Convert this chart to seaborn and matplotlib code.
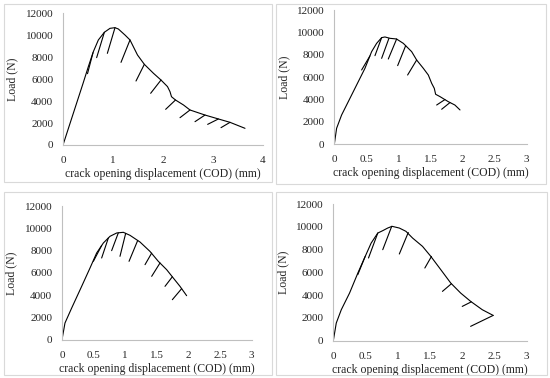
import matplotlib
matplotlib.use('Agg')
import matplotlib.pyplot as plt
import seaborn as sns
import numpy as np
import pandas as pd
from matplotlib.patches import Rectangle
from matplotlib.ticker import FuncFormatter

# panel 1 (top left)
cod1 = [0, 0.10, 0.25, 0.40, 0.507, 0.607, 0.707, 0.827, 0.94, 1.04, 1.107, 1.24, 1.34,
        1.49, 1.627, 1.81, 1.96, 2.09, 2.14, 2.17, 2.25, 2.41, 2.54, 2.84, 3.11, 3.34, 3.64]
load1 = [0, 1400, 3500, 5600, 7140, 8505, 9570, 10270, 10630, 10690, 10570, 10020, 9570,
         8200, 7350, 6530, 5920, 5320, 4860, 4400, 4100, 3645, 3190, 2730, 2370, 2065, 1520]
unl1_x0 = [0.49, 0.673, 0.887, 1.16, 1.46, 1.753, 2.053, 2.34, 2.64, 2.893, 3.16]
unl1_y0 = [6500, 7960, 8350, 7530, 5830, 4710, 3250, 2490, 2126, 1880, 1580]
unl1_x1 = [0.60, 0.827, 1.04, 1.34, 1.627, 1.96, 2.25, 2.54, 2.84, 3.107, 3.34]
unl1_y1 = [8410, 10270, 10690, 9570, 7350, 5920, 4100, 3190, 2730, 2370, 2065]

# panel 2 (top right)
cod2 = [0, 0.036, 0.114, 0.218, 0.348, 0.478, 0.582, 0.66, 0.738, 0.79, 0.868, 0.97, 1.076,
        1.206, 1.284, 1.388, 1.466, 1.518, 1.559, 1.58, 1.648, 1.777, 1.88, 1.96]
load2 = [0, 1430, 2620, 3810, 5300, 6790, 8280, 9020, 9530, 9590, 9470, 9410, 9020,
         8280, 7530, 6790, 6190, 5450, 5000, 4470, 4260, 3810, 3510, 3070]
unl2_x0 = [0.426, 0.634, 0.738, 0.842, 0.988, 1.143, 1.596, 1.674]
unl2_y0 = [6640, 7920, 7680, 7620, 7030, 6190, 3510, 3130]
unl2_x1 = [0.556, 0.738, 0.852, 0.972, 1.112, 1.284, 1.726, 1.804]
unl2_y1 = [7900, 9530, 9470, 9410, 8800, 7530, 4000, 3730]

# panel 3 (bottom left)
cod3 = [0, 0.047, 0.153, 0.311, 0.443, 0.548, 0.654, 0.759, 0.865, 0.97, 1.075, 1.233,
        1.39, 1.523, 1.655, 1.76, 1.866, 1.971]
load3 = [0, 1500, 2850, 4800, 6450, 7800, 8700, 9300, 9600, 9660, 9390, 8790,
         7950, 7050, 6300, 5550, 4800, 3960]
unl3_x0 = [0.496, 0.627, 0.785, 0.917, 1.06, 1.313, 1.418, 1.629, 1.745]
unl3_y0 = [7050, 7350, 8010, 7500, 7050, 6750, 5700, 4800, 3600]
unl3_x1 = [0.627, 0.733, 0.891, 1.007, 1.197, 1.418, 1.55, 1.745, 1.892]
unl3_y1 = [8470, 9150, 9615, 9565, 8925, 7790, 6900, 5660, 4590]

# panel 4 (bottom right)
cod4 = [0, 0.046, 0.124, 0.252, 0.381, 0.484, 0.587, 0.69, 0.767, 0.844, 0.911, 1.024,
        1.127, 1.23, 1.384, 1.513, 1.668, 1.822, 1.976, 2.131, 2.311, 2.48]
load4 = [0, 1550, 2720, 4180, 5940, 7260, 8570, 9450, 9660, 9890, 10040, 9890,
         9600, 9010, 8280, 7400, 6230, 5060, 4180, 3450, 2720, 2220]
unl4_x0 = [0.38, 0.546, 0.767, 1.024, 1.42, 1.693, 2.0, 2.13]
unl4_y0 = [5800, 7260, 7990, 7610, 6380, 4330, 3010, 1260]
unl4_x1 = [0.494, 0.69, 0.906, 1.163, 1.523, 1.832, 2.14, 2.48]
unl4_y1 = [7390, 9450, 10040, 9500, 7400, 5000, 3410, 2220]

y_ticks = [0, 2000, 4000, 6000, 8000, 10000, 12000]
xlabel = 'crack opening displacement (COD) (mm)'
ylabel = 'Load (N)'

sns.set_style('white')
plt.rcParams['font.family'] = ['Liberation Serif', 'DejaVu Serif']
plt.rcParams['font.size'] = 8

W, H = 550, 378
fig = plt.figure(figsize=(W / 100, H / 100), dpi=100)


def px_axes(left, top, right, bottom):
    return fig.add_axes([left / W, 1 - bottom / H, (right - left) / W, (bottom - top) / H])


def draw_panel(ax, cod, load, x0, y0, x1, y1, xmax, xstep):
    curve = pd.DataFrame({'cod': cod, 'load': load})
    sns.lineplot(data=curve, x='cod', y='load', sort=False, color='black', lw=0.8, ax=ax)
    segs = pd.DataFrame({
        'seg': list(range(len(x0))) * 2,
        'cod': list(x0) + list(x1),
        'load': list(y0) + list(y1),
    })
    sns.lineplot(data=segs, x='cod', y='load', units='seg', estimator=None, sort=False,
                 color='black', lw=0.8, ax=ax)
    ax.set_xlim(0, xmax)
    ax.set_ylim(0, 12000)
    ax.set_xticks(np.arange(0, xmax + 0.01, xstep))
    ax.set_yticks(y_ticks)
    ax.xaxis.set_major_formatter(FuncFormatter(lambda v, p: f'{v:g}'))
    ax.tick_params(length=0, labelsize=8)
    ax.tick_params(axis='y', pad=7)
    ax.tick_params(axis='x', pad=8)
    for s in ['top', 'right']:
        ax.spines[s].set_visible(False)
    for s in ['left', 'bottom']:
        ax.spines[s].set_color('#bfbfbf')
        ax.spines[s].set_linewidth(0.8)
    ax.set_xlabel(xlabel, fontsize=8.5, labelpad=2)
    ax.set_ylabel(ylabel, fontsize=8.5, labelpad=5)
    ax.set_facecolor('none')


# panel frames
for (l, t, r, b) in [(4, 4, 272, 182), (276, 4, 546, 184), (4, 192, 272, 375), (276, 192, 547, 375)]:
    fig.patches.append(Rectangle((l / W, 1 - b / H), (r - l) / W, (b - t) / H, transform=fig.transFigure,
                                 fill=False, edgecolor='#d9d9d9', lw=0.8))

ax1 = px_axes(63, 13.3, 263, 145)
draw_panel(ax1, cod1, load1, unl1_x0, unl1_y0, unl1_x1, unl1_y1, 4, 1)
ax2 = px_axes(334.3, 10, 526.7, 144.3)
draw_panel(ax2, cod2, load2, unl2_x0, unl2_y0, unl2_x1, unl2_y1, 3, 0.5)
ax3 = px_axes(62, 206.3, 251.7, 339.7)
draw_panel(ax3, cod3, load3, unl3_x0, unl3_y0, unl3_x1, unl3_y1, 3, 0.5)
ax4 = px_axes(333.3, 204, 526.7, 340.7)
draw_panel(ax4, cod4, load4, unl4_x0, unl4_y0, unl4_x1, unl4_y1, 3, 0.5)

fig.savefig('out.png', dpi=100)
